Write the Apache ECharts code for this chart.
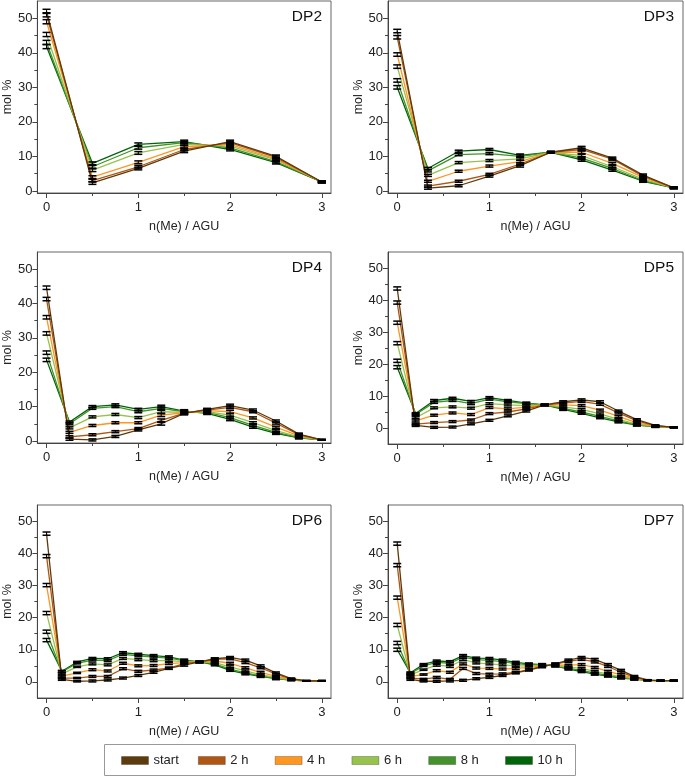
<!DOCTYPE html>
<html>
<head>
<meta charset="utf-8">
<script src="https://cdn.jsdelivr.net/npm/echarts@6/dist/echarts.min.js"></script>
<style>
  html, body { margin: 0; padding: 0; background: #fff; }
  #chart { width: 685px; height: 777px; }
</style>
</head>
<body>
<div id="chart"></div>
<script>
// series names and colours
const seriesNames = ['start', '2 h', '4 h', '6 h', '8 h', '10 h']
const seriesColors = ['#5e3b0d', '#b05614', '#ff961f', '#97c24b', '#45912c', '#006409']
const panelNames = ['DP2', 'DP3', 'DP4', 'DP5', 'DP6', 'DP7']

// x positions: n(Me) / AGU
const xDP2 = [0, 1/2, 1, 3/2, 2, 5/2, 3]
const xDP3 = [0, 1/3, 2/3, 1, 4/3, 5/3, 2, 7/3, 8/3, 3]
const xDP4 = [0, 0.25, 0.5, 0.75, 1, 1.25, 1.5, 1.75, 2, 2.25, 2.5, 2.75, 3]
const xDP5 = [0, 0.2, 0.4, 0.6, 0.8, 1, 1.2, 1.4, 1.6, 1.8, 2, 2.2, 2.4, 2.6, 2.8, 3]
const xDP6 = [0, 1/6, 2/6, 3/6, 4/6, 5/6, 1, 7/6, 8/6, 9/6, 10/6, 11/6, 2, 13/6, 14/6, 15/6, 16/6, 17/6, 3]
const xDP7 = [0, 1/7, 2/7, 3/7, 4/7, 5/7, 6/7, 1, 8/7, 9/7, 10/7, 11/7, 12/7, 13/7, 2, 15/7, 16/7, 17/7, 18/7, 19/7, 20/7, 3]

// mol % values, one row per series (start, 2 h, 4 h, 6 h, 8 h, 10 h)
const dp2 = [
  [52.0, 2.3, 6.5, 11.5, 14.3, 10.0, 2.6],
  [51.0, 3.0, 7.0, 12.0, 14.0, 9.7, 2.6],
  [49.0, 4.0, 8.3, 12.8, 13.5, 9.3, 2.6],
  [45.3, 6.0, 11.0, 13.5, 13.0, 9.0, 2.6],
  [43.0, 7.0, 12.5, 14.0, 12.5, 8.5, 2.6],
  [41.8, 8.0, 13.5, 14.3, 12.0, 8.2, 2.6]
]
const dp3 = [
  [46.3, 0.8, 1.5, 4.3, 7.3, 11.2, 12.5, 9.5, 4.6, 0.9],
  [44.5, 1.4, 2.8, 4.8, 7.8, 11.2, 12.0, 9.2, 4.3, 0.9],
  [39.5, 2.8, 5.7, 7.2, 8.5, 11.2, 11.2, 8.0, 3.9, 0.9],
  [36.0, 4.5, 8.2, 8.8, 9.3, 11.2, 10.2, 7.0, 3.4, 0.9],
  [32.0, 5.8, 10.5, 10.8, 10.0, 11.2, 9.5, 6.5, 3.0, 0.9],
  [30.0, 6.5, 11.5, 12.0, 10.3, 11.2, 9.0, 6.0, 2.8, 0.9]
]
const dp4 = [
  [44.6, 0.5, 0.3, 1.3, 3.2, 5.0, 8.0, 9.2, 10.3, 9.0, 5.8, 2.0, 0.3],
  [41.3, 1.2, 1.8, 2.7, 3.6, 6.0, 8.1, 9.0, 9.8, 8.5, 5.2, 1.8, 0.3],
  [36.0, 2.5, 4.5, 5.3, 5.3, 7.5, 8.2, 8.8, 8.5, 6.7, 4.0, 1.5, 0.3],
  [31.3, 3.8, 7.0, 7.7, 6.8, 8.5, 8.3, 8.5, 7.5, 5.3, 3.0, 1.2, 0.3],
  [25.7, 5.0, 9.5, 10.0, 8.5, 9.5, 8.5, 8.3, 6.8, 4.5, 2.5, 1.0, 0.3],
  [23.6, 5.5, 10.0, 10.5, 9.2, 10.0, 8.7, 8.0, 6.3, 4.0, 2.2, 0.9, 0.3]
]
const dp5 = [
  [43.6, 0.8, 0.2, 0.3, 1.3, 2.4, 3.8, 5.3, 7.2, 8.2, 8.8, 8.2, 5.3, 2.6, 0.8, 0.2],
  [39.2, 1.2, 1.7, 2.0, 2.5, 4.5, 5.0, 6.0, 7.2, 7.8, 8.3, 7.4, 4.7, 2.2, 0.7, 0.2],
  [32.9, 2.2, 4.0, 4.7, 4.2, 6.4, 6.0, 6.5, 7.2, 7.2, 7.0, 5.6, 3.6, 1.6, 0.6, 0.2],
  [26.5, 3.2, 6.3, 6.6, 6.2, 7.6, 7.2, 7.0, 7.2, 6.6, 5.8, 4.4, 2.7, 1.2, 0.5, 0.2],
  [21.0, 4.2, 8.0, 8.6, 7.6, 9.0, 8.2, 7.6, 7.2, 6.1, 5.0, 3.6, 2.2, 1.0, 0.4, 0.2],
  [19.0, 4.5, 8.6, 9.3, 8.3, 9.5, 8.6, 7.8, 7.2, 5.8, 4.6, 3.2, 1.9, 0.9, 0.4, 0.2]
]
const dp6 = [
  [46.1, 0.8, 0.2, 0.3, 0.6, 1.2, 2.0, 3.0, 4.2, 5.2, 6.2, 7.2, 7.6, 6.8, 5.0, 2.8, 1.0, 0.3, 0.3],
  [39.1, 1.2, 1.2, 1.7, 1.7, 4.1, 3.3, 3.7, 4.3, 5.7, 6.2, 7.0, 7.2, 6.0, 4.4, 2.4, 0.9, 0.3, 0.3],
  [30.1, 1.8, 2.8, 3.8, 3.4, 5.8, 5.0, 5.1, 5.7, 6.0, 6.2, 6.5, 5.8, 4.4, 3.0, 1.7, 0.8, 0.3, 0.3],
  [21.4, 2.5, 4.7, 5.6, 5.3, 7.3, 6.9, 6.6, 6.6, 6.3, 6.2, 6.0, 4.7, 3.4, 2.3, 1.3, 0.7, 0.3, 0.3],
  [15.6, 3.1, 5.8, 6.8, 6.6, 8.6, 8.1, 7.7, 7.4, 6.6, 6.2, 5.6, 4.0, 2.8, 1.9, 1.1, 0.6, 0.3, 0.3],
  [13.0, 3.3, 6.2, 7.3, 7.2, 9.1, 8.6, 8.2, 7.8, 6.8, 6.2, 5.3, 3.6, 2.5, 1.7, 1.0, 0.6, 0.3, 0.3]
]
const dp7 = [
  [43.0, 0.8, 0.2, 0.2, 0.3, 0.5, 1.0, 1.4, 2.0, 2.8, 3.7, 4.7, 5.6, 6.8, 7.6, 7.0, 5.4, 3.6, 1.7, 0.6, 0.4, 0.4],
  [36.3, 1.2, 0.9, 1.4, 0.8, 4.2, 2.6, 2.4, 2.5, 3.0, 3.8, 4.9, 5.5, 6.4, 7.0, 6.2, 4.8, 3.0, 1.5, 0.5, 0.4, 0.4],
  [26.2, 1.7, 2.3, 3.5, 3.0, 5.6, 4.3, 4.2, 4.0, 4.2, 4.5, 5.0, 5.3, 5.2, 5.4, 4.5, 3.3, 2.2, 1.2, 0.5, 0.4, 0.4],
  [17.7, 2.2, 3.8, 5.2, 4.8, 6.9, 5.9, 5.6, 5.3, 5.0, 5.0, 5.2, 5.1, 4.6, 4.2, 3.3, 2.4, 1.6, 1.0, 0.5, 0.4, 0.4],
  [12.1, 2.6, 5.0, 6.1, 5.8, 7.7, 6.9, 6.7, 6.3, 5.7, 5.4, 5.3, 5.0, 4.2, 3.6, 2.7, 2.0, 1.4, 0.9, 0.5, 0.4, 0.4],
  [10.0, 2.8, 5.5, 6.5, 6.3, 8.2, 7.4, 7.3, 6.8, 6.1, 5.6, 5.4, 5.0, 4.0, 3.2, 2.4, 1.8, 1.2, 0.9, 0.5, 0.4, 0.4]
]

// error bar half widths (mol %), one per x position
const errDP2 = [0.6, 0.4, 0.4, 0.4, 0.4, 0.4, 0.2]
const errDP3 = [0.5, 0.3, 0.3, 0.3, 0.4, 0.2, 0.4, 0.3, 0.3, 0.2]
const errDP4 = [0.5, 0.3, 0.3, 0.3, 0.3, 0.4, 0.4, 0.3, 0.4, 0.3, 0.3, 0.3, 0.1]
const errDP5 = [0.5, 0.3, 0.3, 0.3, 0.3, 0.3, 0.3, 0.3, 0.2, 0.3, 0.3, 0.3, 0.3, 0.3, 0.2, 0.1]
const errDP6 = [0.5, 0.3, 0.2, 0.3, 0.3, 0.3, 0.3, 0.3, 0.3, 0.3, 0.2, 0.3, 0.3, 0.3, 0.3, 0.3, 0.2, 0.1, 0.1]
const errDP7 = [0.5, 0.3, 0.2, 0.3, 0.3, 0.3, 0.3, 0.3, 0.3, 0.3, 0.3, 0.3, 0.3, 0.3, 0.3, 0.3, 0.3, 0.3, 0.3, 0.1, 0.1, 0.1]

const xTicks = [0, 1, 2, 3]
const xMinor = [0.5, 1.5, 2.5]
const yTicks = [0, 10, 20, 30, 40, 50]
const yMinor = [5, 15, 25, 35, 45]

const panels = [
  { x: xDP2, v: dp2, e: errDP2 },
  { x: xDP3, v: dp3, e: errDP3 },
  { x: xDP4, v: dp4, e: errDP4 },
  { x: xDP5, v: dp5, e: errDP5 },
  { x: xDP6, v: dp6, e: errDP6 },
  { x: xDP7, v: dp7, e: errDP7 }
]

// grid boxes in px, and y minimum of each panel
const boxes = [
  { left: 34, top: 1, width: 297, height: 192, ymin: -0.6, nameGap: 18.5 },
  { left: 388, top: 1, width: 295, height: 192, ymin: -0.6, nameGap: 20.5 },
  { left: 34, top: 252, width: 297, height: 191, ymin: -0.6, nameGap: 18.5 },
  { left: 388, top: 252, width: 295, height: 192, ymin: -5, nameGap: 20.5 },
  { left: 34, top: 505, width: 297, height: 193, ymin: -5, nameGap: 18.5 },
  { left: 388, top: 505, width: 295, height: 193, ymin: -5, nameGap: 20.5 }
]

const font = 'Liberation Sans, Arial, sans-serif'
const grids = [], xAxes = [], yAxes = [], series = [], graphics = []

boxes.forEach(function (b, i) {
  grids.push({ left: b.left, top: b.top, width: b.width, height: b.height,
    show: true, borderColor: '#666', borderWidth: 1, containLabel: false })
  // main x axis
  xAxes.push({
    type: 'value', gridIndex: i, min: -0.1, max: 3.1, position: 'bottom',
    name: 'n(Me) / AGU', nameLocation: 'middle', nameGap: 27,
    nameTextStyle: { fontFamily: font, fontSize: 12.5, color: '#222' },
    axisLine: { show: true, onZero: false, lineStyle: { color: '#444' } },
    axisTick: { show: true, length: 5, customValues: xTicks, lineStyle: { color: '#444' } },
    axisLabel: { customValues: xTicks, fontFamily: font, fontSize: 13, color: '#222', margin: 8 },
    splitLine: { show: false }
  })
  // minor x ticks
  xAxes.push({
    type: 'value', gridIndex: i, min: -0.1, max: 3.1, position: 'bottom',
    axisLine: { show: false, onZero: false },
    axisTick: { show: true, length: 3, customValues: xMinor, lineStyle: { color: '#444' } },
    axisLabel: { show: false }, splitLine: { show: false }
  })
  yAxes.push({
    type: 'value', gridIndex: i, min: b.ymin, max: 55, position: 'left',
    name: 'mol %', nameLocation: 'middle', nameGap: b.nameGap,
    nameTextStyle: { fontFamily: font, fontSize: 12.5, color: '#222' },
    axisLine: { show: true, onZero: false, lineStyle: { color: '#444' } },
    axisTick: { show: true, length: 5, customValues: yTicks, lineStyle: { color: '#444' } },
    axisLabel: { customValues: yTicks, fontFamily: font, fontSize: 13, color: '#222', margin: 5 },
    splitLine: { show: false }
  })
  // minor y ticks
  yAxes.push({
    type: 'value', gridIndex: i, min: b.ymin, max: 55, position: 'left',
    axisLine: { show: false, onZero: false },
    axisTick: { show: true, length: 3, customValues: yMinor, lineStyle: { color: '#444' } },
    axisLabel: { show: false }, splitLine: { show: false }
  })

  const p = panels[i]
  const errData = []
  p.v.forEach(function (row, s) {
    series.push({
      type: 'line', name: seriesNames[s], xAxisIndex: 2 * i, yAxisIndex: 2 * i,
      data: row.map(function (y, k) { return [p.x[k], y] }),
      symbol: 'none', lineStyle: { color: seriesColors[s], width: 1.3 },
      itemStyle: { color: seriesColors[s] }, z: 2 + (5 - s) * 0.1, animation: false
    })
    row.forEach(function (y, k) { errData.push([p.x[k], y, p.e[k]]) })
  })
  series.push({
    type: 'custom', xAxisIndex: 2 * i, yAxisIndex: 2 * i, z: 5, animation: false,
    data: errData,
    renderItem: function (params, api) {
      const x = api.value(0), y = api.value(1), e = api.value(2)
      const t = api.coord([x, y + e]), d = api.coord([x, y - e])
      const hw = 4
      return { type: 'group', children: [
        { type: 'line', shape: { x1: t[0], y1: t[1], x2: d[0], y2: d[1] }, style: { stroke: '#000', lineWidth: 1 } },
        { type: 'line', shape: { x1: t[0] - hw, y1: t[1], x2: t[0] + hw, y2: t[1] }, style: { stroke: '#000', lineWidth: 1.5 } },
        { type: 'line', shape: { x1: d[0] - hw, y1: d[1], x2: d[0] + hw, y2: d[1] }, style: { stroke: '#000', lineWidth: 1.5 } }
      ] }
    }
  })

  graphics.push({
    type: 'text', x: b.left + b.width - 9, y: b.top + 16,
    style: { text: panelNames[i], font: '15.5px ' + font, fill: '#111', align: 'right', verticalAlign: 'middle' }
  })
})

// legend frame
graphics.push({
  type: 'rect', shape: { x: 104.5, y: 744.5, width: 471, height: 31 },
  style: { fill: 'none', stroke: '#999', lineWidth: 1 }
})

// one legend per item so the spacing is even
const legends = seriesNames.map(function (n, s) {
  return {
    data: [{ name: n, icon: 'rect', itemStyle: { color: seriesColors[s], borderColor: 'rgba(0,0,0,0.25)', borderWidth: 1 } }],
    left: 121 + s * 76.8, top: 754, itemWidth: 27, itemHeight: 8, padding: 0,
    selectedMode: false,
    textStyle: { fontFamily: font, fontSize: 13, color: '#222' }
  }
})

const chart = echarts.init(document.getElementById('chart'), null, { renderer: 'canvas' })
chart.setOption({
  animation: false,
  grid: grids,
  xAxis: xAxes,
  yAxis: yAxes,
  legend: legends,
  graphic: graphics,
  series: series
})
</script>
</body>
</html>
